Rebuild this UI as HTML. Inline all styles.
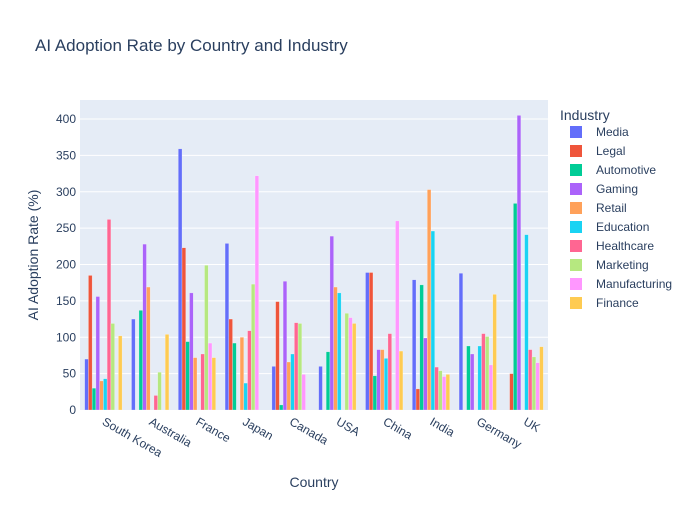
<!DOCTYPE html>
<html><head><meta charset="utf-8"><style>
body{margin:0;background:#fff;font-family:"Liberation Sans",Arial,sans-serif}
svg text{font-family:"Liberation Sans",Arial,sans-serif}
</style></head><body>
<svg id="c" width="700" height="500">
<rect width="700" height="500" fill="#fff"/>
<text x="35" y="51" font-size="17" fill="#2a3f5f">AI Adoption Rate by Country and Industry</text>
<rect x="80" y="100" width="468" height="310" fill="#e5ecf6"/>
<g id="grid"></g><g id="bars"></g><g id="axes"></g><g id="legend"></g>
<text x="314" y="487" font-size="14" fill="#2a3f5f" text-anchor="middle">Country</text>
<text transform="translate(38,255) rotate(-90)" font-size="14" fill="#2a3f5f" text-anchor="middle">AI Adoption Rate (%)</text>
</svg>
<script>
const countries=["South Korea","Australia","France","Japan","Canada","USA","China","India","Germany","UK"];
const industries=["Media","Legal","Automotive","Gaming","Retail","Education","Healthcare","Marketing","Manufacturing","Finance"];
const colors=["#636efa","#EF553B","#00cc96","#ab63fa","#FFA15A","#19d3f3","#FF6692","#B6E880","#FF97FF","#FECB52"];
const media=[70,125,359,229,60,60,189,179,188,0];
const legal=[185,0,223,125,149,0,189,29,0,50];
const automotive=[30,137,94,92,7,80,47,172,88,284];
const gaming=[156,228,161,0,177,239,83,99,77,405];
const retail=[40,169,72,100,66,169,83,303,0,0];
const education=[43,0,0,37,77,161,71,246,88,241];
const healthcare=[262,20,77,109,120,0,105,59,105,83];
const marketing=[119,52,199,173,119,133,0,54,101,73];
const manufacturing=[0,0,92,322,49,127,260,46,62,65];
const finance=[102,104,72,0,0,119,81,49,159,87];
const series=[media,legal,automotive,gaming,retail,education,healthcare,marketing,manufacturing,finance];
const yTicks=[0,50,100,150,200,250,300,350,400];
const NS="http://www.w3.org/2000/svg";
const X0=80,W=468,Y0=410,K=0.7275;
const y=v=>Y0-v*K;
const band=W/countries.length, gw=band*0.8, bw=gw/industries.length;
function el(t,a,p){const e=document.createElementNS(NS,t);for(const k in a)e.setAttribute(k,a[k]);p.appendChild(e);return e;}
const grid=document.getElementById('grid'),bars=document.getElementById('bars'),axes=document.getElementById('axes'),leg=document.getElementById('legend');
yTicks.forEach(t=>{
 if(t>0){const l=el('line',{x1:X0,x2:X0+W,y1:y(t),y2:y(t),stroke:'#fff','stroke-width':1},grid);
 
 }
 const tx=el('text',{x:X0-4,y:y(t)+4,'font-size':12,fill:'#2a3f5f','text-anchor':'end'},axes);tx.textContent=t;
 
 
});
countries.forEach((c,i)=>{
 const cx=X0+band*(i+0.5);
 const tx=el('text',{x:cx-2,y:Y0+14,'font-size':12,fill:'#2a3f5f',transform:`rotate(30 ${cx-2} ${Y0+14})`},axes);tx.textContent=c;
 
 
 series.forEach((s,j)=>{
  const v=s[i]; if(!v) return;
  const r=el('rect',{x:cx-gw/2+j*bw,y:y(v),width:bw,height:v*K,fill:colors[j],stroke:'rgba(255,255,255,0.5)','stroke-width':0.5},bars);
  
  
 });
});
const lt=el('text',{x:560,y:120,'font-size':14,fill:'#2a3f5f'},leg);lt.textContent='Industry';


industries.forEach((n,j)=>{
 const yy=132+j*19;
 const g=el('g',{},leg);
 
 
 el('rect',{x:570,y:yy-6,width:12,height:12,fill:colors[j]},g);
 const t=el('text',{x:596,y:yy+4,'font-size':12,fill:'#2a3f5f'},g);t.textContent=n;
});
</script>
</body></html>
